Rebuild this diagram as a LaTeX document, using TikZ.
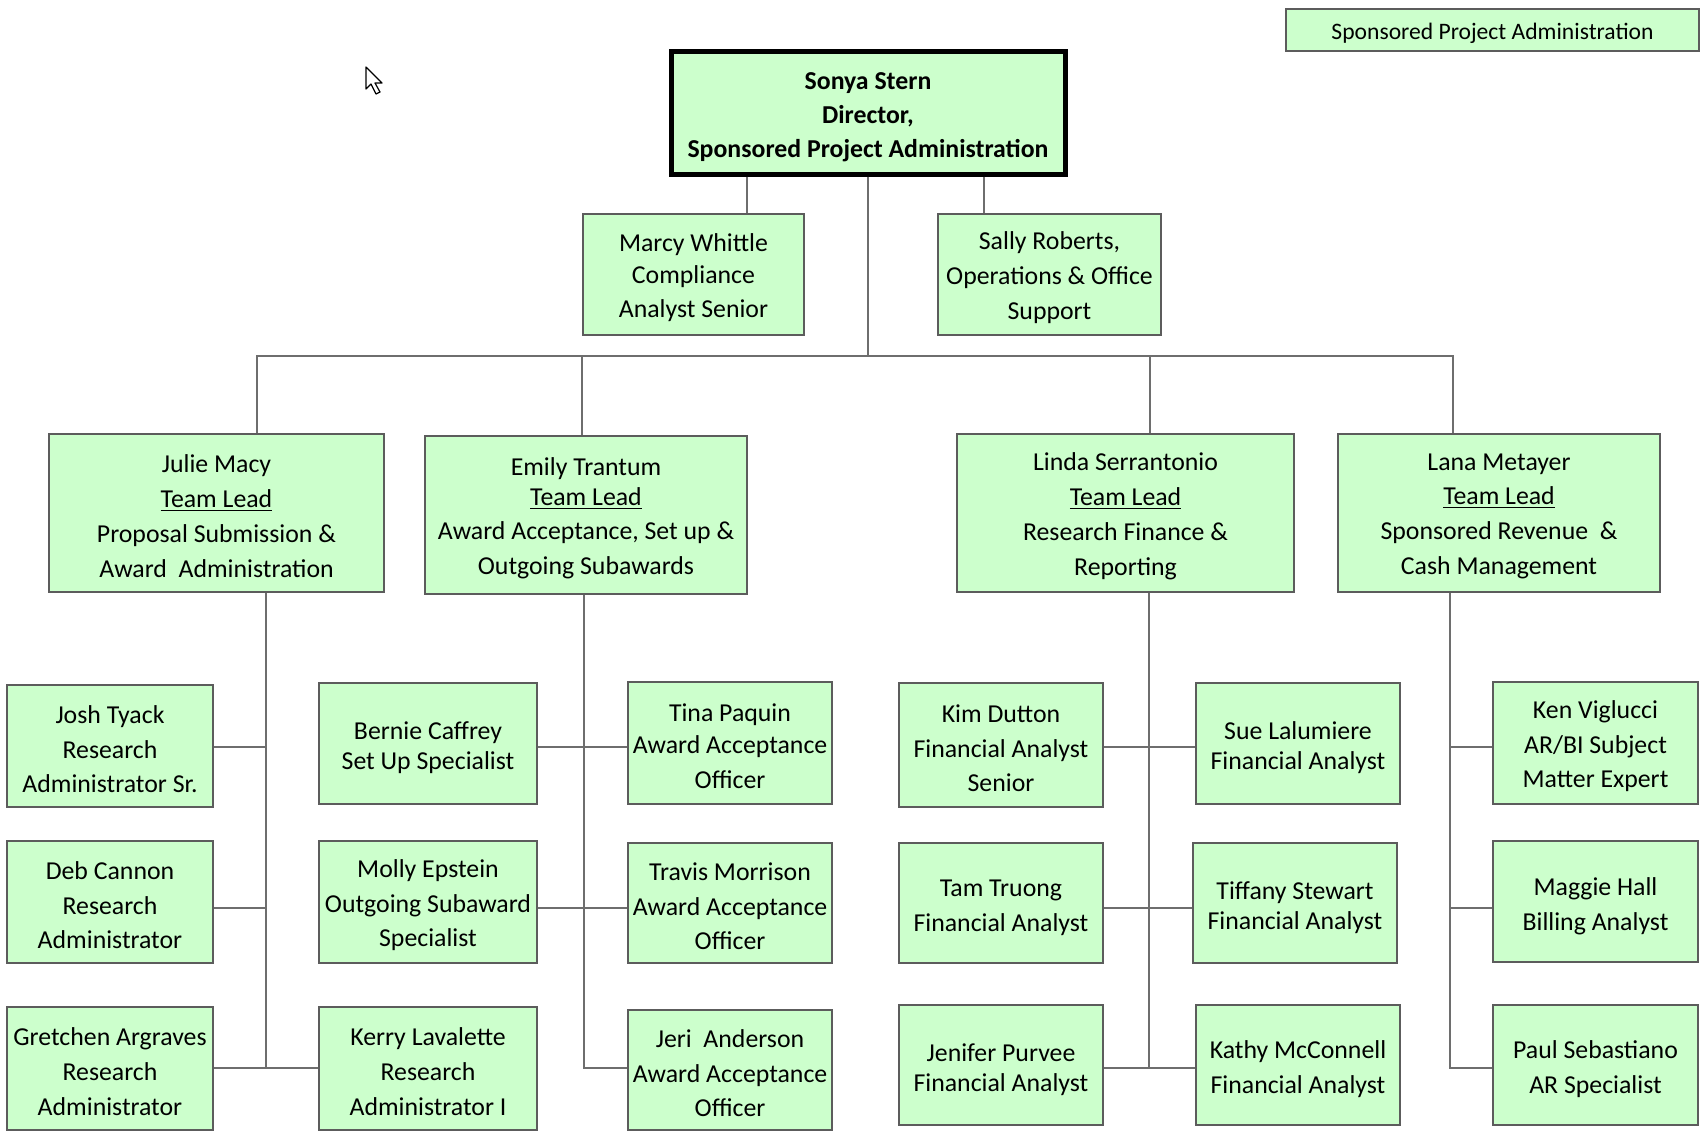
\documentclass[tikz,border=0pt]{standalone}
\usepackage{fontspec}
\setmainfont{Carlito}
\definecolor{boxfill}{HTML}{CCFFCC}
\definecolor{boxline}{HTML}{5C5C5C}
\definecolor{connc}{HTML}{6E6E6E}
\newcommand{\obox}[7][]{%
  \node[box,minimum width={0.5*(#5-#3)},minimum height={0.5*(#6-#4)}]
    (#2) at ({(#3+#5)/2},{(#4+#6)/2}) {};
  \node[lbl,#1] (#2-t) at (#2.center) {#7};}
\begin{document}
\begin{tikzpicture}[x=0.5pt,y=-0.5pt,
  box/.style={draw=boxline, fill=boxfill, line width=1pt, inner sep=0pt},
  lbl/.style={inner sep=0pt, align=center, yshift=-1.6pt,
    font=\fontsize{12.9pt}{17.4pt}\selectfont},
  two/.style={yshift=-0.6pt},
  tight/.style={font=\fontsize{12.9pt}{15pt}\selectfont, yshift=-0.6pt},
  conn/.style={draw=connc, line width=0.8pt},
]
\fill[white] (0,0) rectangle (1703,1132);
\useasboundingbox (0,0) rectangle (1703,1132);

% legend
\obox[font=\fontsize{11.8pt}{14pt}\selectfont]{legend}{1286}{9}{1699}{51}{Sponsored Project Administration}

% director
\node[box, draw=black, line width=2.5pt, minimum width=197pt, minimum height=61.5pt]
  (dir) at (868,112.5) {};
\node[lbl, yshift=-0.8pt, font=\fontsize{12.9pt}{17.2pt}\selectfont\bfseries] (dir-t) at (dir.center)
  {Sonya Stern\\Director,\\Sponsored Project Administration};

% staff
\obox{marcy}{583}{214}{804}{335}{Marcy Whittle\\[-1.5pt]Compliance\\Analyst Senior}
\obox{sally}{938}{214}{1161}{335}{Sally Roberts,\\Operations \& Office\\Support}

% team leads
\obox{julie}{49}{434}{384}{592}
  {Julie Macy\\\underline{Team Lead}\\Proposal Submission \&\\Award~~Administration}
\obox{emily}{425}{436}{747}{594}
  {Emily Trantum\\[-2.5pt]\underline{Team Lead}\\Award Acceptance, Set up \&\\Outgoing Subawards}
\obox{linda}{957}{434}{1294}{592}
  {Linda Serrantonio\\\underline{Team Lead}\\Research Finance \&\\Reporting}
\obox{lana}{1338}{434}{1660}{592}
  {Lana Metayer\\\underline{Team Lead}\\Sponsored Revenue~~\&\\Cash Management}

% column 1
\obox{josh}{7}{685}{213}{807}{Josh Tyack\\Research\\Administrator Sr.}
\obox{deb}{7}{841}{213}{963}{Deb Cannon\\Research\\Administrator}
\obox{gretchen}{7}{1007}{213}{1130}{Gretchen Argraves\\Research\\Administrator}

% column 2
\obox[tight]{bernie}{319}{683}{537}{804}{Bernie Caffrey\\Set Up Specialist}
\obox{molly}{319}{841}{537}{963}{Molly Epstein\\Outgoing Subaward\\Specialist}
\obox{kerry}{319}{1007}{537}{1130}{Kerry Lavalette\\Research\\Administrator I}

% column 3
\obox{tina}{628}{682}{832}{804}{Tina Paquin\\[-1.5pt]Award Acceptance\\Officer}
\obox{travis}{628}{843}{832}{963}{Travis Morrison\\Award Acceptance\\Officer}
\obox{jeri}{628}{1010}{832}{1130}{Jeri~~Anderson\\Award Acceptance\\Officer}

% column 4
\obox{kim}{899}{683}{1103}{807}{Kim Dutton\\Financial Analyst\\Senior}
\obox[two]{tam}{899}{843}{1103}{963}{Tam Truong\\Financial Analyst}
\obox[tight]{jenifer}{899}{1005}{1103}{1125}{Jenifer Purvee\\Financial Analyst}

% column 5
\obox[tight]{sue}{1196}{683}{1400}{804}{Sue Lalumiere\\Financial Analyst}
\obox[tight]{tiffany}{1193}{843}{1397}{963}{Tiffany Stewart\\Financial Analyst}
\obox[two]{kathy}{1196}{1005}{1400}{1125}{Kathy McConnell\\Financial Analyst}

% column 6
\obox{ken}{1493}{682}{1698}{804}{Ken Viglucci\\AR/BI Subject\\Matter Expert}
\obox[two]{maggie}{1493}{841}{1698}{962}{Maggie Hall\\Billing Analyst}
\obox[two]{paul}{1493}{1005}{1698}{1125}{Paul Sebastiano\\AR Specialist}

% junction coordinates
\coordinate (xM) at (747,0);
\coordinate (xS) at (984,0);
\coordinate (xD) at (868,0);
\coordinate (bus) at (0,356);
\coordinate (xJ) at (257,0);
\coordinate (xE) at (582,0);
\coordinate (xL) at (1150,0);
\coordinate (xN) at (1453,0);
\coordinate (sJ) at (266,0);
\coordinate (sE) at (584,0);
\coordinate (sL) at (1149,0);
\coordinate (sN) at (1450,0);
\coordinate (r1) at (0,747);
\coordinate (r2) at (0,908);
\coordinate (r3) at (0,1068);

% director connectors
\draw[conn] (dir.south -| xM) -- (marcy.north -| xM);
\draw[conn] (dir.south -| xS) -- (sally.north -| xS);
\draw[conn] (dir.south) -- (bus -| xD);
\draw[conn] (julie.north -| xJ) -- (bus -| xJ) -- (bus -| xN) -- (lana.north -| xN);
\draw[conn] (bus -| xE) -- (emily.north -| xE);
\draw[conn] (bus -| xL) -- (linda.north -| xL);

% Julie group
\draw[conn] (julie.south -| sJ) -- (r3 -| sJ);
\draw[conn] (josh.east |- r1) -- (r1 -| sJ);
\draw[conn] (deb.east |- r2) -- (r2 -| sJ);
\draw[conn] (gretchen.east |- r3) -- (kerry.west |- r3);

% Emily group
\draw[conn] (emily.south -| sE) -- (r3 -| sE) -- (jeri.west |- r3);
\draw[conn] (bernie.east |- r1) -- (tina.west |- r1);
\draw[conn] (molly.east |- r2) -- (travis.west |- r2);

% Linda group
\draw[conn] (linda.south -| sL) -- (r3 -| sL);
\draw[conn] (kim.east |- r1) -- (sue.west |- r1);
\draw[conn] (tam.east |- r2) -- (tiffany.west |- r2);
\draw[conn] (jenifer.east |- r3) -- (kathy.west |- r3);

% Lana group
\draw[conn] (lana.south -| sN) -- (r3 -| sN) -- (paul.west |- r3);
\draw[conn] (r1 -| sN) -- (ken.west |- r1);
\draw[conn] (r2 -| sN) -- (maggie.west |- r2);

% mouse cursor
\draw[black, fill=white, line width=0.6pt, line join=round]
  (366,67) -- (366,89) -- (371,84) -- (376,94) -- (380,92) -- (375,83) -- (382,83) -- cycle;
\end{tikzpicture}
\end{document}
